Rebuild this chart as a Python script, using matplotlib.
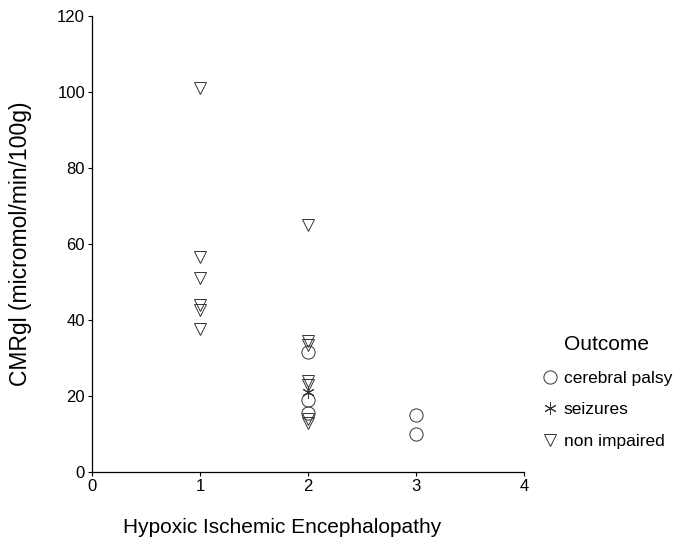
import matplotlib.pyplot as plt

plt.rcParams['font.family'] = ['Liberation Sans', 'DejaVu Sans']

# Cerebral palsy
cp_x = [2, 2, 2, 3, 3]
cp_y = [31.5, 19, 15.5, 15, 10]
# Seizures
sz_x = [2]
sz_y = [21]
# Non impaired
ni_x = [1, 1, 1, 1, 1, 1, 2, 2, 2, 2, 2, 2, 2]
ni_y = [101, 56.5, 51, 44, 42.5, 37.5, 65, 34.5, 33.5, 24, 23, 14, 13]

xticks = [0, 1, 2, 3, 4]
yticks = [0, 20, 40, 60, 80, 100, 120]

fig = plt.figure(figsize=(6.9, 5.51), dpi=100)
ax = fig.add_axes([0.1333, 0.1434, 0.6261, 0.8276])

ec = '#333333'
ax.plot(cp_x, cp_y, linestyle='none', marker='o', markersize=9.5,
        markerfacecolor='none', markeredgecolor=ec, markeredgewidth=0.7,
        label='cerebral palsy')
ax.plot(sz_x, sz_y, linestyle='none', marker=(6, 2, 0), markersize=9,
        markerfacecolor='none', markeredgecolor=ec, markeredgewidth=0.7,
        label='seizures')
ax.plot(ni_x, ni_y, linestyle='none', marker='v', markersize=8,
        markerfacecolor='none', markeredgecolor=ec, markeredgewidth=0.7,
        label='non impaired')

ax.set_xlim(0, 4)
ax.set_ylim(0, 120)
ax.set_xticks(xticks)
ax.set_yticks(yticks)
ax.tick_params(labelsize=12, length=3, width=0.8, pad=2)
for s in ['top', 'right']:
    ax.spines[s].set_visible(False)
for s in ['left', 'bottom']:
    ax.spines[s].set_linewidth(0.9)

ax.set_xlabel('Hypoxic Ischemic Encephalopathy', fontsize=15)
ax.xaxis.set_label_coords(0.44, -0.102)
ax.set_ylabel('CMRgl (micromol/min/100g)', fontsize=16.5, labelpad=18)

leg = ax.legend(loc='upper left', bbox_to_anchor=(0.772, 0.408),
                bbox_transform=fig.transFigure, frameon=False,
                title='Outcome', title_fontsize=15, fontsize=12.5,
                labelspacing=0.95, handletextpad=0.3, borderpad=0,
                handlelength=1.0)
leg._legend_box.sep = 12

fig.savefig('out.png', dpi=100)
